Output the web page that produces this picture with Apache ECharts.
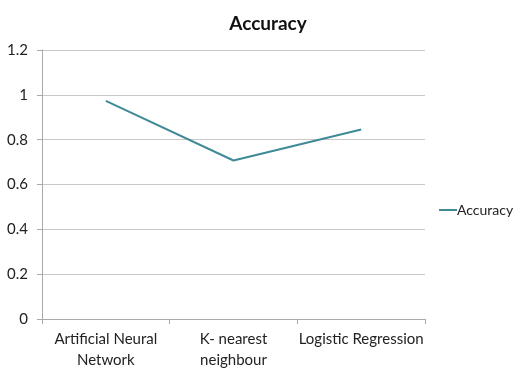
<!DOCTYPE html>
<html>
<head>
<meta charset="utf-8">
<script src="https://cdn.jsdelivr.net/npm/echarts@6/dist/echarts.min.js"></script>
<style>
  html, body { margin: 0; padding: 0; background: #fff; }
  #chart { width: 518px; height: 371px; }
</style>
</head>
<body>
<div id="chart"></div>
<script>
  // 数据
  var categories = ['Artificial Neural\nNetwork', 'K- nearest\nneighbour', 'Logistic Regression'];
  var accuracy = [0.973, 0.707, 0.845];
  var yTicks = [0, 0.2, 0.4, 0.6, 0.8, 1, 1.2];

  var chart = echarts.init(document.getElementById('chart'));
  chart.setOption({
    animation: false,
    textStyle: { fontFamily: 'Lato, "Open Sans", sans-serif' },
    title: {
      text: 'Accuracy',
      left: 263,
      top: 9,
      textAlign: 'center',
      textStyle: { fontSize: 19, fontWeight: 'bold', color: '#111' }
    },
    legend: {
      data: [{ name: 'Accuracy', icon: 'rect' }],
      left: 434,
      top: 198,
      itemWidth: 18,
      itemHeight: 2,
      itemGap: 4,
      textStyle: { fontSize: 14, color: '#222', padding: [0, 0, 0, -5] }
    },
    grid: { left: 42, right: 93, top: 50, bottom: 51, containLabel: false },
    xAxis: {
      type: 'category',
      data: categories,
      boundaryGap: true,
      axisLine: { lineStyle: { color: '#aaa' } },
      axisTick: { show: true, length: 5, lineStyle: { color: '#aaa' } },
      axisLabel: { color: '#222', fontSize: 15, lineHeight: 21, margin: 10, interval: 0 }
    },
    yAxis: {
      type: 'value',
      min: 0,
      max: 1.2,
      interval: 0.2,
      axisLine: { show: true, lineStyle: { color: '#aaa' } },
      axisTick: { show: true, length: 5, lineStyle: { color: '#aaa' } },
      splitLine: { lineStyle: { color: '#c8c8c8' } },
      axisLabel: {
        color: '#222', fontSize: 15, margin: 14,
        formatter: function (v) {
          var t = yTicks.find(function (k) { return Math.abs(k - v) < 1e-6; });
          return t === undefined ? '' : String(t);
        }
      }
    },
    series: [{
      name: 'Accuracy',
      type: 'line',
      data: accuracy,
      symbol: 'none',
      lineStyle: { color: '#3f8a96', width: 2 },
      itemStyle: { color: '#3f8a96' }
    }]
  });
</script>
</body>
</html>
